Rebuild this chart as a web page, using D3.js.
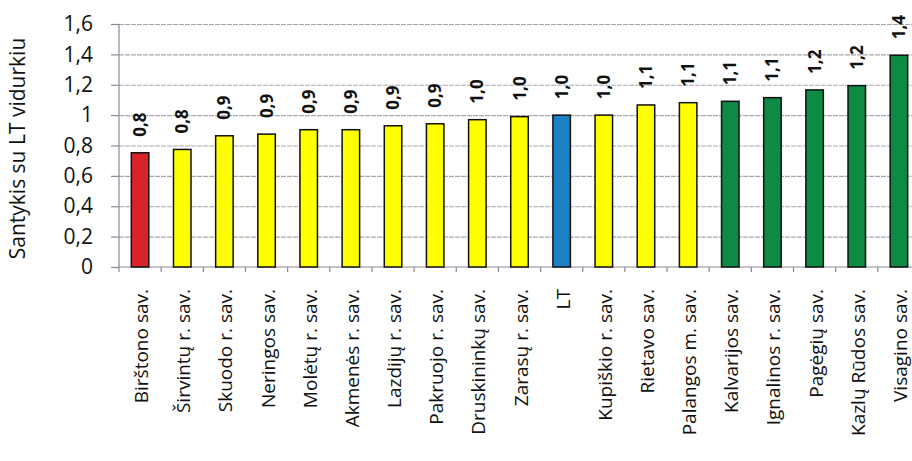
<html>
<head>
  <meta charset="utf-8">
  <title>Santykis su LT vidurkiu</title>
  <script src="https://d3js.org/d3.v7.min.js"></script>
  <style>
    body { margin: 0; background: #fff; }
    text { font-family: "Open Sans", sans-serif; }
  </style>
</head>
<body>
  <script>
    var w = 912;
    var h = 461;
    var categories = ["Birštono sav.", "Širvintų r. sav.", "Skuodo r. sav.", "Neringos sav.", "Molėtų r. sav.",
      "Akmenės r. sav.", "Lazdijų r. sav.", "Pakruojo r. sav.", "Druskininkų sav.", "Zarasų r. sav.", "LT",
      "Kupiškio r. sav.", "Rietavo sav.", "Palangos m. sav.", "Kalvarijos sav.", "Ignalinos r. sav.",
      "Pagėgių sav.", "Kazlų Rūdos sav.", "Visagino sav."];
    var values = [0.752, 0.774, 0.864, 0.875, 0.904, 0.904, 0.930, 0.943, 0.970, 0.990, 1.0,
      1.0, 1.067, 1.082, 1.091, 1.115, 1.166, 1.194, 1.394];
    // group: 0 = lowest, 1 = near average, 2 = LT, 3 = above
    var groups = [0, 1, 1, 1, 1, 1, 1, 1, 1, 1, 2, 1, 1, 1, 3, 3, 3, 3, 3];
    var groupColors = ["#d8232a", "#ffff00", "#1b80c4", "#0d8a44"];
    var yTicks = [0, 0.2, 0.4, 0.6, 0.8, 1, 1.2, 1.4, 1.6];

    var pLeft = 119, pRight = 920, pTop = 24, pBottom = 267;

    var svg = d3.select("body").append("svg").attr("width", w).attr("height", h);

    var x = d3.scaleBand().domain(categories).range([pLeft, pRight])
      .paddingInner(0.585).paddingOuter(0.2925);
    var y = d3.scaleLinear().domain([0, 1.6]).range([pBottom, pTop]);

    var comma = function(v) { return String(v).replace(".", ","); };

    // gridlines
    svg.append("g").selectAll("line").data(yTicks.slice(1)).enter().append("line")
      .attr("x1", pLeft).attr("x2", w)
      .attr("y1", function(d){ return y(d) + 0.5; }).attr("y2", function(d){ return y(d) + 0.5; })
      .attr("stroke", "#aaa6b4").attr("stroke-width", 1.2).attr("stroke-dasharray", "5,1");

    // y axis
    var yAxis = svg.append("g").attr("transform", "translate(" + pLeft + ",0)")
      .call(d3.axisLeft(y).tickValues(yTicks).tickSize(8).tickPadding(18).tickFormat(comma));
    yAxis.selectAll("path, line").attr("stroke", "#8f8798").attr("stroke-width", 1.2);
    yAxis.select(".domain").attr("d", "M0," + pTop + "V" + pBottom);
    yAxis.selectAll("text").attr("font-size", 21).attr("fill", "#111");

    // x axis
    svg.append("line").attr("x1", pLeft).attr("x2", w).attr("y1", pBottom).attr("y2", pBottom)
      .attr("stroke", "#8f8798").attr("stroke-width", 1.2);
    svg.append("g").selectAll("line").data(categories).enter().append("line")
      .attr("x1", function(d){ return x(d) - x.step() * x.paddingInner() / 2; })
      .attr("x2", function(d){ return x(d) - x.step() * x.paddingInner() / 2; })
      .attr("y1", pBottom).attr("y2", pBottom + 5)
      .attr("stroke", "#8f8798").attr("stroke-width", 1.2);

    // bars
    svg.append("g").selectAll("rect").data(values).enter().append("rect")
      .attr("x", function(d, i){ return x(categories[i]); })
      .attr("width", x.bandwidth())
      .attr("y", function(d){ return y(d); })
      .attr("height", function(d){ return y(0) - y(d); })
      .attr("fill", function(d, i){ return groupColors[groups[i]]; })
      .attr("stroke", "#111").attr("stroke-width", 1.5);

    // value labels
    svg.append("g").selectAll("text").data(values).enter().append("text")
      .attr("transform", function(d, i){
        return "translate(" + (x(categories[i]) + x.bandwidth() / 2 + 6) + "," + (y(d) - 16) + ") rotate(-90)";
      })
      .attr("font-size", 17).attr("font-weight", "bold").attr("fill", "#111")
      .text(function(d){ return comma(d.toFixed(1)); });

    // category labels
    svg.append("g").selectAll("text").data(categories).enter().append("text")
      .attr("transform", function(d){
        return "translate(" + (x(d) + x.bandwidth() / 2 + 8) + "," + (pBottom + 22) + ") rotate(-90)";
      })
      .attr("text-anchor", "end").attr("font-size", 19).attr("fill", "#111")
      .text(function(d){ return d; });

    // y title
    svg.append("text")
      .attr("transform", "translate(25," + ((pTop + pBottom) / 2 + 3) + ") rotate(-90)")
      .attr("text-anchor", "middle").attr("font-size", 21).attr("fill", "#111")
      .text("Santykis su LT vidurkiu");
  </script>
</body>
</html>
